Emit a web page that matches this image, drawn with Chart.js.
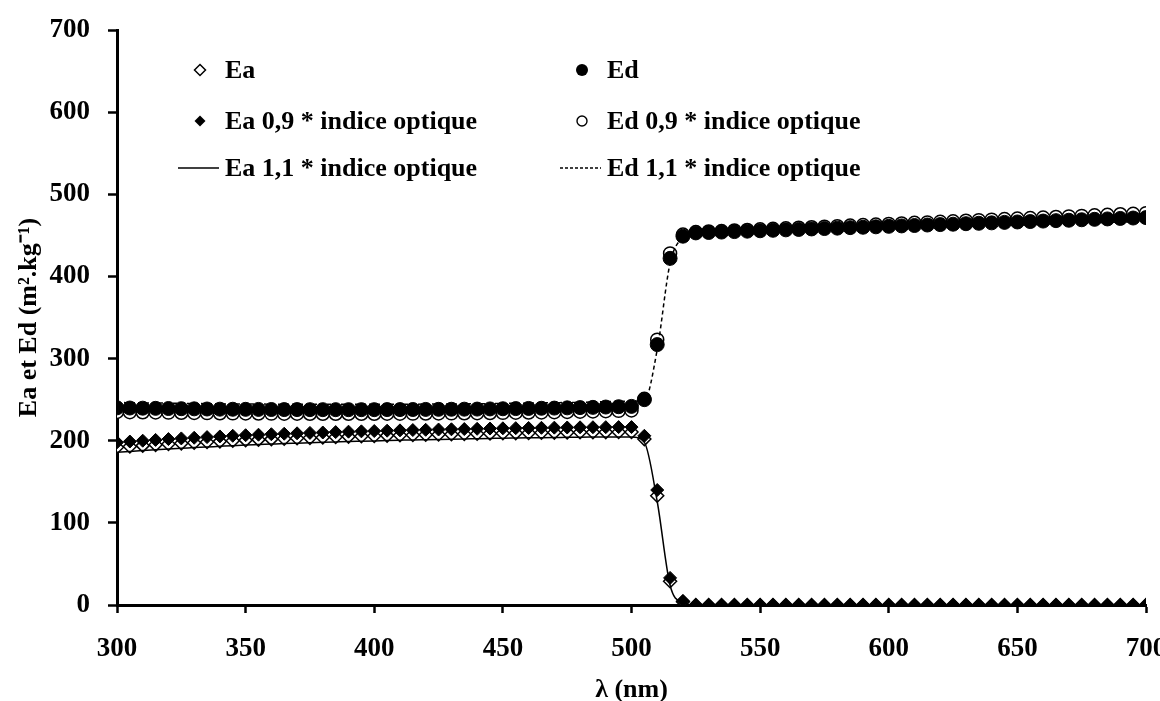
<!DOCTYPE html>
<html>
<head>
<meta charset="utf-8">
<script src="https://cdn.jsdelivr.net/npm/chart.js@4/dist/chart.umd.min.js"></script>
<style>
html,body{margin:0;padding:0;background:#fff;}
#wrap{width:1160px;height:701px;}
</style>
</head>
<body>
<div id="wrap"><canvas id="c" width="1160" height="701"></canvas></div>
<script>
const wavelengths = [300,305,310,315,320,325,330,335,340,345,350,355,360,365,370,375,380,385,390,395,400,405,410,415,420,425,430,435,440,445,450,455,460,465,470,475,480,485,490,495,500,505,510,515,520,525,530,535,540,545,550,555,560,565,570,575,580,585,590,595,600,605,610,615,620,625,630,635,640,645,650,655,660,665,670,675,680,685,690,695,700];

const Ea = [192,193,194,195,196,196.8,197.6,198.4,199.2,200,200.7,201.3,201.9,202.5,203,203.5,204,204.5,205,205.4,205.8,206.2,206.6,207,207.3,207.6,207.9,208.2,208.5,208.8,209.1,209.3,209.5,209.7,209.9,210.1,210.3,210.4,210.5,210.6,210.6,
202,133,29,4,
0,0,0,0,0,0,0,0,0,0,0,0,0,0,0,0,0,0,0,0,0,0,0,0,0,0,0,0,0,0,0,0,0,0,0,0];

const Ea09 = [198,199,200,201,202,202.8,203.6,204.4,205.2,206,206.7,207.3,207.9,208.5,209,209.5,210,210.5,211,211.4,211.8,212.2,212.6,213,213.3,213.6,213.9,214.2,214.5,214.8,215.1,215.3,215.5,215.7,215.9,216.1,216.3,216.4,216.5,216.6,216.6,
206,140,33,5,
0,0,0,0,0,0,0,0,0,0,0,0,0,0,0,0,0,0,0,0,0,0,0,0,0,0,0,0,0,0,0,0,0,0,0,0];

const Ea11 = [186,187,188,189,190,190.8,191.6,192.4,193.2,194,194.7,195.3,195.9,196.5,197,197.5,198,198.5,199,199.4,199.8,200.2,200.6,201,201.3,201.6,201.9,202.2,202.5,202.8,203.1,203.3,203.5,203.7,203.9,204.1,204.3,204.4,204.5,204.6,204.6,
198,126,24,3,
0,0,0,0,0,0,0,0,0,0,0,0,0,0,0,0,0,0,0,0,0,0,0,0,0,0,0,0,0,0,0,0,0,0,0,0];

const Ed = [240,239.8,239.6,239.4,239.2,239,238.8,238.6,238.4,238.3,238.2,238.1,238,237.9,237.9,237.8,237.8,237.8,237.8,237.8,237.8,237.9,237.9,238,238.1,238.2,238.3,238.4,238.5,238.7,238.9,239.1,239.3,239.5,239.7,240,240.3,240.6,241,241.4,241.8,
250,317,422,449,
453.0,453.5,454.0,454.6,455.1,455.6,456.2,456.7,457.2,457.8,458.3,458.8,459.4,459.9,460.4,461.0,461.5,462.0,462.6,463.1,463.6,464.2,464.7,465.2,465.8,466.3,466.8,467.4,467.9,468.4,469.0,469.5,470.0,470.6,471.1,471.6];

const Ed09 = [235,234.8,234.6,234.4,234.2,234,233.8,233.6,233.4,233.3,233.2,233.1,233,232.9,232.9,232.8,232.8,232.8,232.8,232.8,232.8,232.9,232.9,233,233.1,233.2,233.3,233.4,233.5,233.7,233.9,234.1,234.3,234.5,234.7,235,235.3,235.6,236,236.4,236.8,
251,323,428,451,
454.0,454.7,455.3,456.0,456.6,457.3,457.9,458.6,459.3,459.9,460.6,461.2,461.9,462.5,463.2,463.9,464.5,465.2,465.8,466.5,467.1,467.8,468.5,469.1,469.8,470.4,471.1,471.7,472.4,473.1,473.7,474.4,475.0,475.7,476.3,477.0];

const Ed11 = [246.5,246.3,246.1,245.9,245.7,245.5,245.3,245.1,244.9,244.8,244.7,244.6,244.5,244.4,244.4,244.3,244.3,244.3,244.3,244.3,244.3,244.4,244.4,244.5,244.6,244.7,244.8,244.9,245,245.2,245.4,245.6,245.8,246,246.2,246.5,246.8,247.1,247.5,247.9,248.3,
249,311,416,447,
452.0,452.4,452.9,453.3,453.7,454.1,454.6,455.0,455.4,455.9,456.3,456.7,457.1,457.6,458.0,458.4,458.9,459.3,459.7,460.1,460.6,461.0,461.4,461.9,462.3,462.7,463.1,463.6,464.0,464.4,464.9,465.3,465.7,466.1,466.6,467.0];

const seriesLabels = ["Ea", "Ed", "Ea 0,9 * indice optique", "Ed 0,9 * indice optique", "Ea 1,1 * indice optique", "Ed 1,1 * indice optique"];
const xTitle = "λ (nm)";
const yTitle = "Ea et Ed (m².kg⁻¹)";

function pts(arr){ return wavelengths.map((w,i)=>({x:w,y:arr[i]})); }

const FONT = "'Liberation Serif','Times New Roman',serif";

const datasets = [
  {label: seriesLabels[1], data: pts(Ed), showLine:false, pointStyle:'circle', pointRadius:7, pointBackgroundColor:'#000', pointBorderColor:'#000', pointBorderWidth:1, order:0},
  {label: seriesLabels[2], data: pts(Ea09), showLine:false, pointStyle:'rectRot', pointRadius:6.5, pointBackgroundColor:'#000', pointBorderColor:'#000', pointBorderWidth:1, order:1},
  {label: seriesLabels[3], data: pts(Ed09), showLine:false, pointStyle:'circle', pointRadius:6.5, pointBackgroundColor:'#fff', pointBorderColor:'#000', pointBorderWidth:1.5, order:2},
  {label: seriesLabels[0], data: pts(Ea), showLine:false, pointStyle:'rectRot', pointRadius:6.5, pointBackgroundColor:'#fff', pointBorderColor:'#000', pointBorderWidth:1.5, order:3},
  {label: seriesLabels[4], data: pts(Ea11), showLine:true, pointRadius:0, borderColor:'#000', borderWidth:1.5, cubicInterpolationMode:'monotone', fill:false, order:-2},
  {label: seriesLabels[5], data: pts(Ed11), showLine:true, pointRadius:0, borderColor:'#000', borderWidth:1.5, borderDash:[4,3], cubicInterpolationMode:'monotone', fill:false, order:-1}
];

const legendPlugin = {
  id:'customLegend',
  afterDraw(chart){
    const ctx = chart.ctx;
    ctx.save();
    ctx.font = "bold 26px " + FONT;
    ctx.fillStyle = '#000';
    ctx.textBaseline = 'middle';
    ctx.textAlign = 'left';
    const cols = [{mx:200, tx:225, lx0:178, lx1:219}, {mx:582, tx:607, lx0:560, lx1:601}];
    const rows = [70, 121, 168];
    const items = [
      {c:0,r:0,t:seriesLabels[0],kind:'openDiamond'},
      {c:1,r:0,t:seriesLabels[1],kind:'fillCircle'},
      {c:0,r:1,t:seriesLabels[2],kind:'fillDiamond'},
      {c:1,r:1,t:seriesLabels[3],kind:'openCircle'},
      {c:0,r:2,t:seriesLabels[4],kind:'line'},
      {c:1,r:2,t:seriesLabels[5],kind:'dash'}
    ];
    items.forEach(it=>{
      const col = cols[it.c], y = rows[it.r], x = col.mx;
      ctx.strokeStyle='#000'; ctx.fillStyle='#000';
      if(it.kind==='openDiamond'||it.kind==='fillDiamond'){
        const r=5.5;
        ctx.beginPath(); ctx.moveTo(x,y-r); ctx.lineTo(x+r,y); ctx.lineTo(x,y+r); ctx.lineTo(x-r,y); ctx.closePath();
        if(it.kind==='fillDiamond'){ctx.fill();} else {ctx.lineWidth=1.5; ctx.fillStyle='#fff'; ctx.fill(); ctx.stroke();}
      } else if(it.kind==='fillCircle'){
        ctx.beginPath(); ctx.arc(x,y,6,0,Math.PI*2); ctx.fill();
      } else if(it.kind==='openCircle'){
        ctx.beginPath(); ctx.arc(x,y,5,0,Math.PI*2); ctx.lineWidth=1.4; ctx.stroke();
      } else {
        ctx.lineWidth=1.5;
        ctx.setLineDash(it.kind==='dash'?[3,2]:[]);
        ctx.beginPath(); ctx.moveTo(col.lx0,y); ctx.lineTo(col.lx1,y); ctx.stroke();
        ctx.setLineDash([]);
      }
      ctx.fillStyle='#000';
      ctx.fillText(it.t, col.tx, y+1);
    });
    ctx.restore();
  }
};

new Chart(document.getElementById('c'), {
  type:'scatter',
  data:{datasets},
  options:{
    responsive:false,
    animation:false,
    devicePixelRatio:1,
    layout:{padding:{top:30,right:14,left:0,bottom:0}},
    plugins:{legend:{display:false}, tooltip:{enabled:false}},
    scales:{
      x:{
        type:'linear', min:300, max:700,
        afterFit(s){ s.height = 96; s.paddingLeft = 0; s.paddingRight = 0; },
        ticks:{stepSize:50, color:'#000', padding:20, font:{family:FONT, size:27, weight:'bold'}},
        grid:{display:true, drawOnChartArea:false, drawTicks:true, tickLength:8, tickWidth:2.5, tickColor:'#000'},
        border:{display:true, color:'#000', width:3},
        title:{display:true, text:xTitle, color:'#000', font:{family:FONT, size:26, weight:'bold', lineHeight:0.8}, padding:{top:0,bottom:0}}
      },
      y:{
        min:0, max:700,
        afterFit(s){ s.width = 117; s.paddingTop = 0; s.paddingBottom = 0; },
        ticks:{stepSize:100, color:'#000', padding:18, font:{family:FONT, size:27, weight:'bold'}},
        grid:{display:true, drawOnChartArea:false, drawTicks:true, tickLength:9, tickWidth:2.5, tickColor:'#000'},
        border:{display:true, color:'#000', width:3},
        title:{display:true, text:yTitle, color:'#000', font:{family:FONT, size:26, weight:'bold'}, padding:{top:14,bottom:0}}
      }
    }
  },
  plugins:[legendPlugin]
});
</script>
</body>
</html>
